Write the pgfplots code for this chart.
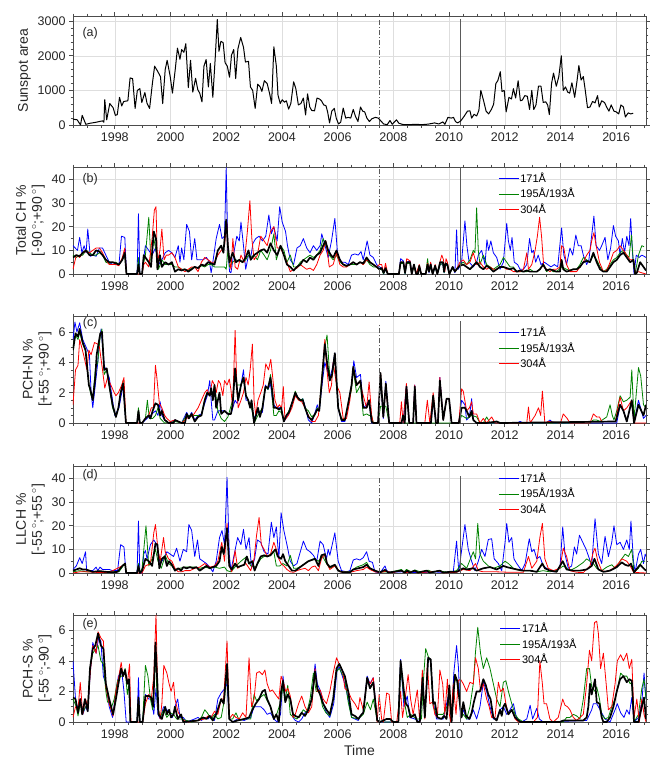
\documentclass[border=0pt]{standalone}
\usepackage{fontspec}
\setmainfont{Liberation Sans}
\usepackage{pgfplots}
\pgfplotsset{compat=1.18}
\definecolor{cblue}{RGB}{0,0,255}
\definecolor{cgreen}{RGB}{0,130,0}
\definecolor{cred}{RGB}{255,0,0}
\definecolor{vline}{RGB}{90,90,90}
\pgfplotsset{
  panel/.style={
    scale only axis, width=573pt,
    xmin=1996.5, xmax=2017.07, ymin=0,
    xtick={1998,2000,2002,2004,2006,2008,2010,2012,2014,2016},
    minor xtick={1996.5,1997,1997.5,1998,1998.5,1999,1999.5,2000,2000.5,2001,2001.5,2002,2002.5,2003,2003.5,2004,2004.5,2005,2005.5,2006,2006.5,2007,2007.5,2008,2008.5,2009,2009.5,2010,2010.5,2011,2011.5,2012,2012.5,2013,2013.5,2014,2014.5,2015,2015.5,2016,2016.5,2017},
    tick align=outside,
    major tick length=4pt, minor tick length=2.5pt,
    grid=major, grid style={black!13, line width=0.5pt},
    axis line style={black!70, line width=0.6pt},
    every tick/.style={black!70, line width=0.6pt},
    tick label style={font=\fontsize{12.5}{14}\selectfont, text=black!85},
    label style={font=\fontsize{14}{16}\selectfont, text=black!85},
    /pgf/number format/assume math mode=true,
    /pgf/number format/1000 sep={},
    ylabel style={align=center},
    legend cell align=left,
    legend style={draw=none, fill=none, inner sep=0pt, row sep=2pt,
      font=\fontsize{11}{13}\selectfont, nodes={inner sep=1.2pt}},
    legend image code/.code={\draw[##1] (0pt,0pt) -- (20pt,0pt);},
    every axis plot/.append style={no markers, line join=round},
  },
  ser/.style={line width=0.8pt},
  mean/.style={black, line width=1.7pt},
  vdash/.style={vline, line width=0.7pt, dash pattern=on 5pt off 2pt on 1pt off 2pt},
  vsolid/.style={vline, line width=0.7pt},
}
\newcommand{\threelegend}{%
  \addlegendimage{color=cblue, line width=0.8pt}\addlegendentry{171Å}%
  \addlegendimage{color=cgreen, line width=0.8pt}\addlegendentry{195Å/193Å}%
  \addlegendimage{color=cred, line width=0.8pt}\addlegendentry{304Å}}
\begin{document}
\begin{tikzpicture}
\path[use as bounding box] (-73pt,16pt) rectangle (592pt,-755pt);

% ---------------- (a) ----------------
\begin{axis}[panel, at={(0pt,0pt)}, anchor=north west, height=109pt,
  ymax=3150, ytick={0,1000,2000,3000}, minor y tick num=4,
  ylabel={Sunspot area}]
\addplot[vdash, forget plot] coordinates {(2007.5,0) (2007.5,3050)};
\addplot[vsolid, forget plot] coordinates {(2010.42,0) (2010.42,3050)};
\addplot[black, line width=1pt, forget plot] coordinates {
(1996.50,170) (1996.65,150) (1996.77,0) (1996.83,280) (1996.96,20) (1997.11,50) (1997.33,80) (1997.56,120) (1997.61,80)
(1997.64,730) (1997.71,150) (1997.82,620) (1997.94,500) (1998.02,280) (1998.09,300) (1998.17,800) (1998.25,550)
(1998.32,680) (1998.47,700) (1998.55,1360) (1998.64,1340) (1998.73,480) (1998.81,1000) (1998.90,1050) (1998.97,650)
(1999.08,940) (1999.16,620) (1999.25,480) (1999.35,1200) (1999.43,1700) (1999.54,1550) (1999.64,1400) (1999.72,620)
(1999.81,1600) (1999.88,1870) (1999.99,1400) (2000.07,920) (2000.17,1600) (2000.25,2220) (2000.34,1900) (2000.40,2180)
(2000.48,2100) (2000.55,2350) (2000.64,1080) (2000.72,1870) (2000.80,950) (2000.90,1350) (2000.98,1020) (2001.05,920)
(2001.13,670) (2001.20,1700) (2001.28,1890) (2001.36,1100) (2001.43,1780) (2001.52,800) (2001.61,2000) (2001.68,3050)
(2001.74,2130) (2001.81,2420) (2001.89,2380) (2001.96,1800) (2002.04,1700) (2002.12,1380) (2002.19,2020) (2002.27,2180)
(2002.34,1340) (2002.42,2200) (2002.52,2530) (2002.62,2250) (2002.69,1820) (2002.80,1840) (2002.87,1100) (2002.95,1000)
(2003.04,480) (2003.13,1180) (2003.22,1100) (2003.28,970) (2003.37,1280) (2003.47,1200) (2003.56,900) (2003.63,620)
(2003.71,2260) (2003.80,1700) (2003.86,860) (2003.94,620) (2004.01,730) (2004.09,660) (2004.16,700) (2004.24,460)
(2004.32,620) (2004.42,1250) (2004.50,1050) (2004.59,580) (2004.68,620) (2004.77,780) (2004.85,290) (2004.92,900)
(2005.00,520) (2005.07,420) (2005.17,410) (2005.26,780) (2005.35,750) (2005.42,700) (2005.50,580) (2005.58,560)
(2005.64,380) (2005.71,60) (2005.79,400) (2005.88,480) (2005.95,200) (2006.03,30) (2006.11,80) (2006.20,490)
(2006.29,200) (2006.38,220) (2006.47,200) (2006.56,450) (2006.64,250) (2006.73,100) (2006.82,520) (2006.90,400)
(2006.97,380) (2007.05,200) (2007.14,100) (2007.23,180) (2007.35,220) (2007.46,200) (2007.55,120) (2007.65,30)
(2007.78,10) (2007.88,130) (2007.96,20) (2008.11,150) (2008.20,50) (2008.34,15) (2008.56,10) (2008.79,20)
(2009.02,10) (2009.25,25) (2009.48,60) (2009.63,30) (2009.78,90) (2009.85,20) (2009.96,220) (2010.08,200)
(2010.16,220) (2010.23,100) (2010.31,60) (2010.42,120) (2010.54,250) (2010.66,400) (2010.75,410) (2010.81,200)
(2010.90,310) (2010.99,260) (2011.07,420) (2011.14,1000) (2011.24,700) (2011.33,400) (2011.42,320) (2011.52,450)
(2011.60,600) (2011.68,1200) (2011.75,1280) (2011.84,1540) (2011.90,970) (2011.98,1000) (2012.05,380) (2012.15,800)
(2012.24,750) (2012.31,1050) (2012.39,780) (2012.48,1280) (2012.56,700) (2012.63,720) (2012.72,850) (2012.81,830)
(2012.89,450) (2012.97,1000) (2013.04,450) (2013.12,580) (2013.21,1120) (2013.30,1120) (2013.38,650) (2013.47,670)
(2013.54,580) (2013.60,300) (2013.68,1200) (2013.75,1500) (2013.85,1120) (2013.94,1400) (2014.03,2000) (2014.10,1000)
(2014.18,1100) (2014.26,950) (2014.33,920) (2014.41,1220) (2014.51,800) (2014.59,1250) (2014.66,1720) (2014.74,1300)
(2014.82,1400) (2014.89,1000) (2014.97,500) (2015.06,520) (2015.15,680) (2015.24,640) (2015.33,850) (2015.39,520)
(2015.48,700) (2015.58,650) (2015.67,500) (2015.74,400) (2015.82,580) (2015.92,400) (2016.00,380) (2016.09,320)
(2016.17,580) (2016.26,520) (2016.33,230) (2016.43,350) (2016.52,320) (2016.61,340)};
\node[font=\fontsize{12.5}{14}\selectfont, text=black!85] at (rel axis cs:0.03,0.845) {(a)};
\end{axis}

% ---------------- (b) ----------------
\begin{axis}[panel, at={(0pt,-151pt)}, anchor=north west, height=107pt,
  ymax=45.3, ytick={0,10,20,30,40}, minor y tick num=1,
  ylabel={Total CH \%\\{}[-90\,$^\circ$;+90\,$^\circ$]},
  legend style={at={(0.742,0.958)}, anchor=north west}]
\threelegend
\addplot[cblue, ser, forget plot] coordinates {
(1996.50,12) (1996.58,11) (1996.66,10) (1996.74,15.5) (1996.82,9) (1996.90,12) (1996.97,9) (1997.03,19) (1997.12,7.5)
(1997.21,8) (1997.33,7.5) (1997.45,11) (1997.56,11) (1997.68,8) (1997.80,5) (1997.92,4) (1998.04,4.5) (1998.15,4)
(1998.24,16) (1998.36,15.5) (1998.42,0) (1998.80,0) (1998.85,25.5) (1998.90,0) (1998.98,0) (1999.04,7) (1999.10,12)
(1999.22,10) (1999.34,8) (1999.46,11) (1999.57,4) (1999.69,6) (1999.81,9) (1999.93,10) (2000.05,9) (2000.16,7)
(2000.28,12) (2000.34,5) (2000.40,11) (2000.48,6) (2000.58,21) (2000.68,18) (2000.76,6) (2000.87,15) (2000.95,6)
(2001.05,6) (2001.17,6) (2001.29,7) (2001.40,5) (2001.46,0.5) (2001.52,5) (2001.64,15) (2001.76,21) (2001.85,15)
(2001.94,16) (2002.00,45) (2002.06,10) (2002.12,1) (2002.17,0.5) (2002.29,10) (2002.38,16) (2002.47,14) (2002.53,22)
(2002.62,12) (2002.70,2) (2002.80,8) (2002.88,7) (2002.96,13) (2003.06,15) (2003.18,16) (2003.30,14) (2003.42,16)
(2003.53,25) (2003.62,17) (2003.71,20) (2003.83,14) (2003.92,28.5) (2004.01,22) (2004.13,18) (2004.20,12) (2004.30,6)
(2004.42,4) (2004.54,11) (2004.66,12) (2004.77,15) (2004.89,11) (2005.01,9) (2005.13,12) (2005.25,10) (2005.37,12)
(2005.43,17) (2005.55,12) (2005.66,7) (2005.78,14) (2005.90,23.5) (2006.00,8) (2006.14,5) (2006.26,5) (2006.38,4)
(2006.50,8) (2006.62,8.5) (2006.74,8) (2006.84,9.5) (2006.92,6) (2007.06,14) (2007.16,8) (2007.28,7) (2007.40,4)
(2007.50,3) (2007.58,2.5) (2007.65,0) (2007.72,2) (2007.80,0) (2008.20,0) (2008.26,6.5) (2008.36,5.5) (2008.42,0)
(2008.48,5) (2008.60,5.5) (2008.66,0) (2008.74,4) (2008.82,0) (2008.93,3) (2009.00,0) (2009.16,0) (2009.23,4)
(2009.28,0.5) (2009.34,4.5) (2009.41,0) (2009.50,3) (2009.58,0) (2009.68,4) (2009.78,4.5) (2009.82,0.5) (2009.87,4)
(2009.94,3.5) (2010.01,0) (2010.13,3) (2010.21,0.5) (2010.27,18.7) (2010.33,2) (2010.45,5) (2010.57,22.5) (2010.64,12)
(2010.72,5) (2010.80,4) (2010.87,3) (2010.99,5) (2011.05,8) (2011.17,10) (2011.29,4) (2011.36,14.5) (2011.42,10)
(2011.50,14) (2011.59,9) (2011.71,7) (2011.83,2) (2011.95,5) (2012.07,21.5) (2012.13,14) (2012.20,10) (2012.26,15.5)
(2012.34,5) (2012.46,4) (2012.55,2) (2012.67,2) (2012.79,4) (2012.89,15) (2012.97,9) (2013.03,10) (2013.11,5)
(2013.20,8) (2013.30,4) (2013.42,5) (2013.54,4) (2013.66,3) (2013.78,4) (2013.90,3) (2014.04,19.5) (2014.12,8)
(2014.22,4) (2014.34,11) (2014.44,8) (2014.55,16.5) (2014.64,12) (2014.74,12) (2014.82,8) (2014.94,4) (2015.02,6)
(2015.20,24.5) (2015.28,12) (2015.40,10) (2015.48,12) (2015.60,15.5) (2015.70,6) (2015.80,11) (2015.90,20.5)
(2015.98,16) (2016.08,14) (2016.14,8) (2016.22,15) (2016.30,9) (2016.38,16) (2016.46,12) (2016.52,23.5) (2016.58,10)
(2016.64,0) (2016.72,8) (2016.82,7) (2016.92,8) (2017.00,7.5) (2017.07,7)};
\addplot[cgreen, ser, forget plot] coordinates {
(1996.50,8) (1996.62,7) (1996.74,8) (1996.85,8) (1996.97,10) (1997.09,9) (1997.21,8) (1997.33,8) (1997.45,9) (1997.56,8)
(1997.68,5) (1997.80,4.5) (1997.92,5) (1998.04,5) (1998.15,4) (1998.27,6) (1998.36,8) (1998.42,0) (1998.80,0)
(1998.85,7) (1998.90,0) (1998.98,0) (1999.04,5) (1999.10,8) (1999.22,24) (1999.30,5) (1999.40,15) (1999.48,10)
(1999.57,2) (1999.69,6) (1999.81,4) (1999.93,4) (2000.05,4) (2000.16,3) (2000.28,3) (2000.40,2) (2000.52,2)
(2000.64,1.5) (2000.76,2.5) (2000.87,3) (2000.99,2.5) (2001.11,3.5) (2001.23,3) (2001.35,4) (2001.46,4) (2001.58,3)
(2001.70,3) (2001.82,3) (2001.94,3) (2002.00,2) (2002.06,10) (2002.12,3) (2002.23,5) (2002.35,6) (2002.47,5.5)
(2002.59,5) (2002.70,6) (2002.80,8) (2002.88,7) (2003.00,8) (2003.12,6) (2003.24,10) (2003.36,8) (2003.47,6)
(2003.59,10) (2003.71,17) (2003.80,6) (2003.95,12) (2004.07,10) (2004.18,5) (2004.30,8) (2004.42,3) (2004.54,3)
(2004.66,5) (2004.77,6) (2004.89,7) (2005.01,8) (2005.13,7) (2005.25,8) (2005.37,10) (2005.48,15) (2005.58,12)
(2005.70,8) (2005.84,6) (2005.96,8) (2006.08,5) (2006.20,4) (2006.32,3) (2006.44,4) (2006.56,4) (2006.68,4)
(2006.80,5) (2006.92,4) (2007.04,6) (2007.16,4) (2007.28,3) (2007.40,3) (2007.50,2) (2007.58,2) (2007.65,0)
(2007.72,2) (2007.80,0) (2008.20,0) (2008.26,4.5) (2008.36,4.5) (2008.42,0) (2008.48,4.5) (2008.60,4.5) (2008.66,0)
(2008.74,3.5) (2008.82,0) (2008.93,3) (2009.00,0) (2009.16,0) (2009.23,6.5) (2009.28,1) (2009.34,3.5) (2009.41,0)
(2009.50,3) (2009.58,0) (2009.68,4) (2009.78,4.5) (2009.82,0.5) (2009.87,4) (2009.94,3.5) (2010.01,0) (2010.13,2.5)
(2010.21,1) (2010.27,2) (2010.39,4) (2010.51,5) (2010.63,4) (2010.75,6) (2010.87,10) (2010.93,9) (2010.99,28)
(2011.05,10) (2011.11,4) (2011.23,8) (2011.35,4) (2011.47,3) (2011.59,2) (2011.71,3) (2011.83,4) (2011.95,7)
(2012.07,5) (2012.19,3) (2012.31,3) (2012.43,1) (2012.55,1) (2012.67,1) (2012.79,1) (2012.91,2) (2013.03,1)
(2013.15,1) (2013.26,2) (2013.38,4) (2013.50,1) (2013.62,2) (2013.74,1) (2013.86,1) (2014.04,3) (2014.22,2)
(2014.34,1.5) (2014.46,2) (2014.58,2) (2014.70,4) (2014.82,7) (2014.94,6) (2015.06,5) (2015.18,8) (2015.30,6)
(2015.42,3) (2015.54,1) (2015.66,2) (2015.78,4) (2015.90,6) (2016.02,7) (2016.14,9) (2016.26,10) (2016.38,8)
(2016.46,7) (2016.55,16.5) (2016.62,4) (2016.68,0) (2016.80,8) (2016.92,12) (2017.00,11.5)};
\addplot[cred, ser, forget plot] coordinates {
(1996.50,2) (1996.56,5) (1996.62,8) (1996.74,7) (1996.85,9) (1996.97,9.5) (1997.09,9) (1997.21,10) (1997.33,11)
(1997.45,11) (1997.56,9) (1997.68,6) (1997.80,4) (1997.92,4) (1998.04,4) (1998.15,3.5) (1998.27,7) (1998.36,11)
(1998.42,0) (1998.98,0) (1999.04,4) (1999.10,5) (1999.22,3) (1999.34,15) (1999.42,27) (1999.48,28.5) (1999.53,5)
(1999.62,10) (1999.69,19) (1999.77,6) (1999.85,8) (1999.93,8) (2000.05,9) (2000.16,7) (2000.28,3) (2000.40,2)
(2000.52,1) (2000.64,2) (2000.76,3) (2000.87,3) (2000.99,1) (2001.11,5) (2001.23,7) (2001.35,6) (2001.46,5)
(2001.58,5) (2001.70,8) (2001.82,10) (2001.94,12) (2002.02,22) (2002.08,8) (2002.17,2) (2002.24,15) (2002.32,3)
(2002.41,2) (2002.53,8) (2002.65,5) (2002.76,18) (2002.85,31) (2002.92,15) (2003.00,6) (2003.12,8) (2003.24,16)
(2003.36,14) (2003.47,12) (2003.59,18) (2003.71,20) (2003.83,11) (2003.95,11) (2004.07,8) (2004.18,5) (2004.30,1)
(2004.42,2) (2004.54,2.5) (2004.66,4) (2004.77,3) (2004.89,2) (2005.01,2.5) (2005.13,1.5) (2005.25,4) (2005.37,8)
(2005.48,10) (2005.58,14) (2005.70,3) (2005.84,4) (2005.96,9) (2006.08,4) (2006.20,3) (2006.32,3) (2006.44,4)
(2006.56,5) (2006.68,4) (2006.80,5) (2006.92,4) (2007.04,6) (2007.16,5) (2007.28,4) (2007.40,3) (2007.50,4)
(2007.58,4) (2007.65,0.5) (2007.72,4.5) (2007.80,0) (2008.20,0) (2008.26,5) (2008.36,5) (2008.42,0.5) (2008.48,6.5)
(2008.60,5.5) (2008.66,0) (2008.74,4) (2008.82,0) (2008.93,4) (2009.00,0) (2009.16,0) (2009.23,4.5) (2009.28,1)
(2009.34,5) (2009.41,0) (2009.50,4) (2009.58,0) (2009.68,5.5) (2009.74,8) (2009.80,6) (2009.85,1) (2009.89,6.5)
(2009.94,5) (2010.01,0) (2010.13,3) (2010.21,1) (2010.27,2) (2010.39,5) (2010.51,6) (2010.63,4) (2010.75,5)
(2010.87,9) (2010.99,4) (2011.11,5) (2011.23,3) (2011.35,2) (2011.47,3) (2011.59,2) (2011.71,2) (2011.83,3)
(2011.95,3) (2012.07,2) (2012.19,2) (2012.31,1) (2012.43,1) (2012.55,1) (2012.67,2) (2012.79,9) (2012.85,2)
(2012.97,4) (2013.09,10) (2013.17,16) (2013.25,24) (2013.32,16) (2013.40,3) (2013.50,2) (2013.62,1) (2013.74,2)
(2013.86,2) (2013.98,3) (2014.04,12) (2014.12,11) (2014.22,4) (2014.34,1) (2014.46,1) (2014.58,1) (2014.70,3)
(2014.82,5) (2014.94,8) (2015.06,10) (2015.12,14) (2015.20,17.5) (2015.28,12) (2015.40,5) (2015.54,1) (2015.66,1.5)
(2015.78,5) (2015.90,9) (2016.02,10) (2016.14,12) (2016.26,10) (2016.38,8) (2016.50,6) (2016.62,6) (2016.68,0.5)
(2016.80,1) (2016.92,0.5) (2017.07,0)};
\addplot[mean, forget plot] coordinates {
(1996.50,7) (1996.62,8) (1996.74,7.5) (1996.85,9) (1996.97,10) (1997.09,8) (1997.21,8) (1997.33,10) (1997.45,9.5)
(1997.56,8) (1997.68,6) (1997.80,5) (1997.92,5) (1998.04,4.5) (1998.15,4) (1998.27,6) (1998.36,9) (1998.42,0)
(1998.80,0) (1998.85,4) (1998.90,0) (1998.98,0) (1999.04,8) (1999.10,7) (1999.22,5) (1999.30,3) (1999.40,18)
(1999.48,15) (1999.53,2) (1999.62,8) (1999.69,3) (1999.81,5) (1999.93,4) (2000.05,5) (2000.16,1) (2000.28,2)
(2000.40,1.5) (2000.52,2) (2000.64,1) (2000.76,2) (2000.87,3) (2000.99,2.5) (2001.11,4) (2001.23,3.5) (2001.35,5)
(2001.46,4.5) (2001.58,4) (2001.70,10) (2001.82,12) (2001.90,9) (2002.00,23) (2002.06,12) (2002.12,5) (2002.23,9)
(2002.35,5) (2002.47,6) (2002.59,5) (2002.70,7) (2002.80,10) (2002.88,6) (2003.00,8) (2003.12,9) (2003.24,10)
(2003.36,10.5) (2003.47,9) (2003.59,13) (2003.71,10) (2003.83,8) (2003.95,12) (2004.07,8) (2004.18,4) (2004.30,3)
(2004.42,1.5) (2004.54,3) (2004.66,4) (2004.77,6) (2004.89,5) (2005.01,7) (2005.13,6) (2005.25,8) (2005.37,9)
(2005.48,12) (2005.56,14) (2005.66,10) (2005.76,8) (2005.84,7) (2005.96,10) (2006.08,6) (2006.20,4) (2006.32,3.5)
(2006.44,4) (2006.56,5) (2006.68,4) (2006.80,5) (2006.92,4.5) (2007.04,7) (2007.16,5) (2007.28,4) (2007.40,3)
(2007.50,2) (2007.58,2.5) (2007.65,0.5) (2007.72,2.5) (2007.80,0) (2008.20,0) (2008.26,5) (2008.36,5) (2008.42,0.5)
(2008.48,5) (2008.60,5) (2008.66,0) (2008.74,4) (2008.82,0) (2008.88,0) (2008.93,3.5) (2009.00,0) (2009.16,0)
(2009.23,4) (2009.28,1) (2009.34,4) (2009.41,0) (2009.50,3.5) (2009.58,0) (2009.68,5) (2009.78,5) (2009.82,1)
(2009.87,4.5) (2009.94,4) (2010.01,0) (2010.13,3) (2010.21,1) (2010.27,2) (2010.39,3.5) (2010.51,4) (2010.63,3)
(2010.75,2) (2010.87,3.5) (2010.99,5) (2011.11,3) (2011.23,2) (2011.35,3.5) (2011.47,2.5) (2011.59,1) (2011.71,2)
(2011.83,3) (2011.95,3) (2012.07,2.5) (2012.19,2) (2012.31,2.5) (2012.43,1) (2012.55,1.5) (2012.67,1) (2012.79,1.5)
(2012.91,1) (2013.03,1) (2013.15,1) (2013.26,2) (2013.38,4) (2013.50,1.5) (2013.62,2) (2013.74,1.5) (2013.86,1)
(2013.98,1) (2014.04,6) (2014.10,2) (2014.22,1) (2014.34,1.5) (2014.46,2) (2014.58,2) (2014.70,3) (2014.82,5)
(2014.94,5.5) (2015.06,5) (2015.18,9) (2015.30,5) (2015.42,2) (2015.54,1) (2015.66,1) (2015.78,3) (2015.90,5)
(2016.02,6) (2016.14,8) (2016.26,9) (2016.38,7) (2016.50,5) (2016.62,6) (2016.68,0) (2016.74,0.5) (2016.86,5)
(2016.98,3) (2017.07,1.5)};
\addplot[vdash, forget plot] coordinates {(2007.5,0) (2007.5,45.3)};
\addplot[vsolid, forget plot] coordinates {(2010.42,0) (2010.42,45.3)};
\node[font=\fontsize{12.5}{14}\selectfont, text=black!85] at (rel axis cs:0.03,0.888) {(b)};
\end{axis}

% ---------------- (c) ----------------
\begin{axis}[panel, at={(0pt,-300pt)}, anchor=north west, height=107pt,
  ymax=7.05, ytick={0,2,4,6}, minor y tick num=3,
  ylabel={PCH-N \%\\{}[+55\,$^\circ$;+90\,$^\circ$]},
  legend style={at={(0.742,0.911)}, anchor=north west}]
\threelegend
\addplot[cblue, ser, forget plot] coordinates {
(1996.50,5.5) (1996.57,6.65) (1996.64,6) (1996.74,6.6) (1996.85,5.5) (1996.97,5) (1997.09,4.5) (1997.15,2) (1997.21,1)
(1997.27,2) (1997.39,4) (1997.45,5.5) (1997.51,6.2) (1997.62,3.8) (1997.68,3.5) (1997.80,3) (1997.92,1.5) (1998.00,0.5)
(1998.15,1) (1998.30,2.5) (1998.40,0) (1998.80,0) (1998.85,0.6) (1998.90,0) (1998.98,0) (1999.10,0.2) (1999.22,0.4)
(1999.34,0.6) (1999.46,0.8) (1999.55,0.5) (1999.63,1.4) (1999.69,0.5) (1999.79,0.2) (1999.93,0) (2000.16,0.2)
(2000.40,0) (2000.58,0.7) (2000.66,0.4) (2000.76,0.7) (2000.87,0.2) (2000.99,0.5) (2001.11,0.6) (2001.23,1.3)
(2001.32,1.8) (2001.41,2.8) (2001.46,1.5) (2001.52,0.2) (2001.58,0.2) (2001.70,0.8) (2001.82,0.8) (2001.94,0.8)
(2002.06,0.6) (2002.17,0.6) (2002.32,1.5) (2002.39,1.3) (2002.43,1.5) (2002.53,2.5) (2002.62,3.5) (2002.71,1.5)
(2002.79,1.5) (2002.91,1) (2003.00,0.3) (2003.14,0.8) (2003.30,0.7) (2003.41,2.5) (2003.50,2.2) (2003.59,2.6)
(2003.66,1.5) (2003.71,1.2) (2003.80,1) (2003.89,1) (2003.97,1) (2004.07,0.1) (2004.25,0.6) (2004.36,1.3)
(2004.48,1.8) (2004.56,1.7) (2004.66,1.5) (2004.75,1.6) (2004.83,1.1) (2004.95,0.2) (2005.07,0) (2005.19,0.7)
(2005.27,1.2) (2005.34,0.8) (2005.42,2.2) (2005.54,4) (2005.62,3.5) (2005.72,3) (2005.80,3.5) (2005.90,4.6)
(2006.02,1) (2006.14,0.1) (2006.26,0.1) (2006.38,1.2) (2006.50,2.5) (2006.58,4.1) (2006.68,3) (2006.82,3.2)
(2006.92,1) (2007.04,1.2) (2007.13,1.5) (2007.22,0) (2007.45,0) (2007.54,3) (2007.64,0.3) (2007.73,2.75) (2007.85,0)
(2008.35,0) (2008.47,2.5) (2008.57,0) (2008.71,0) (2008.77,2.5) (2008.83,0) (2009.35,0) (2009.43,1.5) (2009.53,0)
(2009.60,0) (2009.67,3) (2009.79,0.2) (2009.91,1.6) (2010.00,1.6) (2010.09,0) (2010.35,0) (2010.45,1.5) (2010.57,1.2)
(2010.63,0.2) (2010.73,0.4) (2010.81,1.6) (2010.87,0.2) (2010.99,0) (2012.43,0) (2012.55,0.1) (2012.67,0) (2013.50,0)
(2013.62,0.2) (2013.74,0) (2016.02,0) (2016.14,1.2) (2016.26,0.8) (2016.38,0.1) (2016.56,1.4) (2016.64,0) (2016.80,1.5)
(2016.98,0.3) (2017.07,0.5)};
\addplot[cgreen, ser, forget plot] coordinates {
(1996.50,5) (1996.59,5.8) (1996.68,5.5) (1996.74,6) (1996.85,5.2) (1996.95,4.8) (1997.07,2.5) (1997.15,1.8) (1997.21,1.6)
(1997.30,3.5) (1997.39,4) (1997.48,5.8) (1997.54,6.2) (1997.62,3.2) (1997.71,3.5) (1997.80,2.5) (1997.92,1) (1998.04,0.4)
(1998.13,1) (1998.21,2) (1998.30,2.8) (1998.40,0) (1998.80,0) (1998.85,1) (1998.90,0) (1998.98,0) (1999.10,0.3)
(1999.17,1.5) (1999.24,0.3) (1999.36,0.3) (1999.46,0.5) (1999.55,1) (1999.63,0.3) (1999.79,0) (2000.16,0.1) (2000.40,0)
(2000.58,0.5) (2000.76,0.5) (2000.99,0.5) (2001.11,0.5) (2001.23,1.6) (2001.32,2) (2001.41,2) (2001.52,1.8) (2001.58,2.5)
(2001.70,0.8) (2001.82,0.3) (2001.94,0.1) (2002.06,0.4) (2002.23,1.5) (2002.32,3.5) (2002.39,2.5) (2002.53,2.5)
(2002.62,3) (2002.71,1.8) (2002.79,1.5) (2002.91,1) (2003.00,0) (2003.14,0.5) (2003.30,1) (2003.41,2.4) (2003.50,2.2)
(2003.59,3.2) (2003.66,1.5) (2003.71,0.5) (2003.80,0.5) (2003.89,0.8) (2003.97,0.7) (2004.07,0.2) (2004.25,0.8)
(2004.36,1.3) (2004.48,2.1) (2004.56,1.6) (2004.66,1.5) (2004.75,1.6) (2004.83,1) (2004.95,0.8) (2005.07,0.4)
(2005.19,0.6) (2005.27,1) (2005.34,0.8) (2005.42,2.8) (2005.54,5) (2005.62,5.8) (2005.72,3) (2005.80,3) (2005.90,4.5)
(2006.02,1) (2006.14,0.3) (2006.26,0.2) (2006.38,1.3) (2006.50,2.2) (2006.56,3.5) (2006.68,2) (2006.82,2.5) (2006.92,0.5)
(2007.04,0.6) (2007.13,0.5) (2007.22,0.5) (2007.28,0) (2007.45,0) (2007.54,1.1) (2007.64,1.1) (2007.73,1.1) (2007.85,0)
(2010.35,0) (2010.45,0.5) (2010.63,0.3) (2010.81,0.5) (2010.99,0.4) (2011.11,0) (2011.23,0) (2011.35,0.4) (2011.47,0)
(2015.06,0) (2015.18,0.2) (2015.30,0.2) (2015.42,0.1) (2015.66,0.4) (2015.78,1.2) (2015.86,0.5) (2015.92,0.2)
(2016.02,0.8) (2016.14,1.8) (2016.26,1.4) (2016.38,1.5) (2016.50,1.7) (2016.56,3.5) (2016.64,0.2) (2016.80,3.65)
(2016.88,3.1) (2016.98,1.2) (2017.07,1)};
\addplot[cred, ser, forget plot] coordinates {
(1996.50,1.2) (1996.59,3.5) (1996.68,3.8) (1996.74,5.5) (1996.88,4.5) (1997.00,3.5) (1997.07,4.8) (1997.15,4.5)
(1997.27,5.3) (1997.39,5.2) (1997.45,5) (1997.56,3.5) (1997.64,2.3) (1997.74,3) (1997.86,2.5) (1997.98,2) (1998.04,1.8)
(1998.13,2) (1998.25,2.5) (1998.33,3) (1998.40,0) (1998.98,0) (1999.10,0.3) (1999.22,0.5) (1999.31,1) (1999.39,1)
(1999.46,3.8) (1999.51,3) (1999.60,1.3) (1999.69,1) (1999.79,0.5) (1999.87,0.3) (1999.99,0.1) (2000.16,0.2) (2000.40,0)
(2000.58,0.3) (2000.81,0.5) (2000.99,1) (2001.11,1.5) (2001.23,2) (2001.32,2.2) (2001.41,1.8) (2001.50,2.8) (2001.58,2.5)
(2001.64,2) (2001.72,2.8) (2001.79,2.6) (2001.88,1.8) (2001.94,2.8) (2002.03,2.5) (2002.11,2.9) (2002.17,2.2) (2002.23,1)
(2002.32,6.1) (2002.39,2) (2002.43,1) (2002.53,1.5) (2002.62,2) (2002.71,3) (2002.79,2.5) (2002.86,3.5) (2002.94,5.2)
(2003.00,1.5) (2003.06,0.5) (2003.14,1.5) (2003.24,2) (2003.33,2.5) (2003.42,3.9) (2003.52,3.5) (2003.60,4.2) (2003.67,3)
(2003.75,1.5) (2003.84,1) (2003.91,1.2) (2003.99,1) (2004.05,2.4) (2004.11,0.2) (2004.23,0.5) (2004.36,1) (2004.48,1.8)
(2004.60,1.5) (2004.71,1.4) (2004.83,1) (2004.95,0.5) (2005.07,0.1) (2005.19,0.1) (2005.31,0.5) (2005.42,2.5)
(2005.54,5.5) (2005.60,3.8) (2005.70,2) (2005.78,2.5) (2005.84,4) (2005.96,2.5) (2006.08,2) (2006.20,0.3) (2006.32,0.3)
(2006.44,1.5) (2006.56,3.5) (2006.68,2.5) (2006.80,2.7) (2006.92,1.8) (2007.04,1) (2007.13,2.7) (2007.22,0.5) (2007.28,0)
(2007.45,0) (2007.54,3.3) (2007.64,0.4) (2007.73,2.5) (2007.85,0) (2008.23,0) (2008.29,1.4) (2008.35,0) (2008.47,2.6)
(2008.57,0) (2008.71,0) (2008.77,2.5) (2008.83,0) (2009.13,0) (2009.22,1.5) (2009.31,0) (2009.43,2) (2009.53,0)
(2009.60,0) (2009.67,3) (2009.79,0.2) (2009.91,1.6) (2010.00,1.6) (2010.09,0) (2010.35,0) (2010.45,2.25) (2010.51,2.1)
(2010.63,0.8) (2010.73,1) (2010.81,1.4) (2010.87,0.6) (2010.99,0.6) (2011.11,0) (2011.23,0.3) (2011.35,0) (2011.53,0.4)
(2011.65,0) (2012.79,0) (2012.85,1.05) (2012.91,0) (2013.09,0.5) (2013.21,1) (2013.29,0.5) (2013.35,2.1) (2013.44,0)
(2013.56,0.1) (2014.00,0) (2014.10,0.6) (2014.24,0.3) (2014.34,0) (2015.06,0) (2015.18,0.6) (2015.30,0.4) (2015.40,0.4)
(2015.48,0.1) (2015.98,0.1) (2016.02,0.6) (2016.14,1.7) (2016.26,0.8) (2016.38,1) (2016.56,1.5) (2016.64,0) (2017.07,0)};
\addplot[mean, forget plot] coordinates {
(1996.50,4.8) (1996.59,5.9) (1996.68,5.7) (1996.74,6.2) (1996.85,5.3) (1996.95,4.8) (1997.07,2.5) (1997.11,2.3)
(1997.21,1.5) (1997.30,3) (1997.35,4.5) (1997.48,5.9) (1997.54,6) (1997.62,3.5) (1997.71,3.6) (1997.80,2.5) (1997.92,1.2)
(1998.04,0.4) (1998.13,1) (1998.21,2) (1998.30,2.6) (1998.40,0) (1998.80,0) (1998.85,0.8) (1998.90,0) (1998.98,0)
(1999.10,0.3) (1999.22,0.5) (1999.28,0.3) (1999.36,0.8) (1999.46,1.3) (1999.55,1.2) (1999.63,0.5) (1999.69,0.8)
(1999.79,0.2) (1999.87,0.1) (1999.93,0) (2000.11,0) (2000.16,0.2) (2000.28,0.1) (2000.40,0) (2000.52,0) (2000.58,0.6)
(2000.66,0.3) (2000.76,0.6) (2000.87,0.1) (2000.99,0.4) (2001.11,0.5) (2001.23,1.5) (2001.32,2) (2001.41,1.8)
(2001.46,2.3) (2001.52,1.5) (2001.58,2.5) (2001.64,1) (2001.70,1.5) (2001.76,2) (2001.82,0.6) (2001.94,0.8)
(2002.06,0.6) (2002.17,0.6) (2002.23,1.2) (2002.32,3.6) (2002.39,2.2) (2002.43,1.5) (2002.53,2.5) (2002.62,3)
(2002.71,1.8) (2002.79,1.5) (2002.86,1) (2002.91,1.5) (2003.00,0) (2003.07,0.5) (2003.14,1) (2003.21,0.4) (2003.30,1)
(2003.41,2.4) (2003.50,2.3) (2003.59,3) (2003.66,2) (2003.71,1) (2003.80,1) (2003.89,0.9) (2003.97,1) (2004.07,0.1)
(2004.16,0.5) (2004.25,0.7) (2004.36,1.3) (2004.48,2) (2004.56,1.7) (2004.66,1.5) (2004.75,1.5) (2004.83,1) (2004.95,0.4)
(2005.07,0.2) (2005.19,0.6) (2005.27,0.9) (2005.34,0.8) (2005.42,2.5) (2005.54,5.2) (2005.62,4) (2005.72,2.8)
(2005.80,3.2) (2005.90,4.6) (2006.02,1) (2006.14,0.2) (2006.26,0.2) (2006.38,1.3) (2006.50,2.5) (2006.56,3.7)
(2006.68,2.5) (2006.82,2.8) (2006.92,1) (2007.04,1) (2007.13,1.5) (2007.22,0.1) (2007.28,0) (2007.45,0) (2007.54,3.3)
(2007.64,0.4) (2007.73,2.6) (2007.85,0) (2008.29,0) (2008.35,0.5) (2008.41,0) (2008.47,2.4) (2008.57,0) (2008.71,0)
(2008.77,2.4) (2008.83,0) (2009.35,0) (2009.43,1.8) (2009.53,0) (2009.60,0) (2009.67,2.8) (2009.79,0.2) (2009.91,1.6)
(2010.00,1.6) (2010.09,0) (2010.35,0) (2010.45,1) (2010.57,1) (2010.63,0.8) (2010.73,0.4) (2010.81,0.8) (2010.87,0.2)
(2010.99,0) (2011.35,0) (2011.71,0.1) (2011.83,0) (2015.98,0.1) (2016.14,1.2) (2016.26,0.8) (2016.38,0.1) (2016.56,1.5)
(2016.64,0) (2016.80,1.2) (2016.98,0.5) (2017.07,1.2)};
\addplot[vdash, forget plot] coordinates {(2007.5,0) (2007.5,6.55)};
\addplot[vsolid, forget plot] coordinates {(2010.42,0) (2010.42,6.7)};
\node[font=\fontsize{12.5}{14}\selectfont, text=black!85] at (rel axis cs:0.03,0.935) {(c)};
\end{axis}

% ---------------- (d) ----------------
\begin{axis}[panel, at={(0pt,-450pt)}, anchor=north west, height=107pt,
  ymax=45.3, ytick={0,10,20,30,40}, minor y tick num=1,
  ylabel={LLCH \%\\{}[-55\,$^\circ$;+55\,$^\circ$]},
  legend style={at={(0.742,0.949)}, anchor=north west}]
\threelegend
\addplot[cblue, ser, forget plot] coordinates {
(1996.50,1.5) (1996.62,3) (1996.74,6.5) (1996.83,4) (1996.95,9) (1996.99,1) (1997.09,1) (1997.21,1) (1997.33,2.5)
(1997.39,1) (1997.47,2.5) (1997.56,1.5) (1997.80,1.5) (1997.92,1) (1998.10,1) (1998.21,12) (1998.33,11) (1998.40,0)
(1998.80,0) (1998.85,22) (1998.90,0) (1998.98,0) (1999.04,8) (1999.10,9.5) (1999.16,6) (1999.28,12) (1999.40,14)
(1999.51,12) (1999.63,4) (1999.75,6) (1999.87,9) (1999.99,8) (2000.11,7) (2000.22,10.5) (2000.34,5) (2000.46,10)
(2000.58,9) (2000.66,20.5) (2000.76,18) (2000.87,7) (2000.97,14) (2001.05,6) (2001.17,5) (2001.29,4) (2001.41,2.5)
(2001.52,0.5) (2001.64,5) (2001.76,15) (2001.85,18) (2001.94,12) (2002.03,40.5) (2002.11,8) (2002.17,1) (2002.29,8)
(2002.41,15) (2002.53,12) (2002.62,18.5) (2002.71,10) (2002.82,15) (2002.91,2) (2003.02,6) (2003.12,14) (2003.24,13)
(2003.36,9) (2003.50,8) (2003.62,21.5) (2003.71,15) (2003.80,19.5) (2003.89,6) (2003.97,25.5) (2004.07,18) (2004.18,12)
(2004.30,5) (2004.42,3) (2004.54,4) (2004.66,9) (2004.77,13.5) (2004.89,10) (2005.01,9) (2005.13,7.5) (2005.25,5)
(2005.37,13.5) (2005.48,12) (2005.60,6) (2005.66,10) (2005.72,7.5) (2005.90,17) (2006.02,5) (2006.14,1) (2006.32,0.5)
(2006.44,1) (2006.56,5.5) (2006.68,6) (2006.80,5.5) (2006.92,6.5) (2007.04,9) (2007.13,5) (2007.25,4.5) (2007.34,0.5)
(2007.52,0) (2007.70,3) (2007.76,1) (2007.88,0.3) (2008.30,0.5) (2008.60,0.3) (2009.00,0.2) (2009.50,0.4) (2010.00,0.3)
(2010.15,0.3) (2010.27,13.5) (2010.35,0.5) (2010.57,20.5) (2010.69,10) (2010.81,5) (2010.93,1) (2011.05,5) (2011.17,10)
(2011.29,7) (2011.41,14.2) (2011.53,14.5) (2011.62,6) (2011.77,4) (2011.89,1) (2012.01,13) (2012.07,21) (2012.15,13)
(2012.25,15) (2012.33,6) (2012.43,4) (2012.61,1) (2012.73,4) (2012.88,14.5) (2012.97,9) (2013.05,10) (2013.15,6)
(2013.26,7) (2013.38,3) (2013.50,2) (2013.62,1) (2013.74,0.5) (2013.98,2) (2014.08,19.5) (2014.16,8) (2014.28,2)
(2014.40,3) (2014.50,11) (2014.58,8) (2014.68,16) (2014.80,13) (2014.92,10) (2015.04,6) (2015.12,3) (2015.24,23)
(2015.36,8) (2015.48,4) (2015.60,15.5) (2015.72,7) (2015.84,13) (2015.92,20) (2016.02,12) (2016.14,13) (2016.26,10)
(2016.38,14) (2016.47,10) (2016.53,22) (2016.62,5) (2016.68,0.5) (2016.80,8) (2016.88,10) (2016.98,4) (2017.04,8)
(2017.07,7)};
\addplot[cgreen, ser, forget plot] coordinates {
(1996.50,0.5) (1996.74,1) (1996.97,0.5) (1997.21,0.5) (1997.45,0.8) (1997.68,0.5) (1997.92,0.8) (1998.15,0.5) (1998.30,3)
(1998.37,4) (1998.41,0) (1998.80,0) (1998.85,4) (1998.90,0) (1998.98,2) (1999.12,20) (1999.22,3) (1999.34,6) (1999.46,10)
(1999.55,5) (1999.67,2) (1999.81,7.5) (1999.93,4) (2000.05,3) (2000.16,1.5) (2000.34,2) (2000.52,2.5) (2000.70,2.5)
(2000.87,2.5) (2001.05,2) (2001.23,2.5) (2001.41,2) (2001.58,2.5) (2001.76,2) (2001.94,2.5) (2002.03,1) (2002.17,0.5)
(2002.35,3) (2002.53,5) (2002.74,7) (2002.88,3) (2003.06,2.5) (2003.24,6) (2003.36,7) (2003.54,7.5) (2003.71,9)
(2003.80,3) (2003.92,3) (2004.04,4) (2004.18,3) (2004.30,7.5) (2004.42,2) (2004.54,2) (2004.71,3) (2004.95,5)
(2005.13,6) (2005.31,5) (2005.46,7) (2005.60,4) (2005.72,2) (2005.90,3) (2006.08,0.5) (2006.44,0.5) (2006.68,2.5)
(2006.92,3.5) (2007.04,4.5) (2007.16,2) (2007.34,1) (2007.52,0.3) (2007.70,0.5) (2007.88,0.3) (2008.29,1.5)
(2008.38,0.4) (2008.47,1.5) (2008.65,0.5) (2008.77,1.3) (2009.01,0.3) (2009.25,1.2) (2009.43,0.3) (2009.61,1)
(2009.85,0.5) (2010.03,0.3) (2010.27,1) (2010.45,4) (2010.63,2) (2010.87,9) (2010.95,6) (2011.03,21) (2011.11,8)
(2011.23,5) (2011.41,3) (2011.59,2) (2011.83,3) (2012.01,5) (2012.13,4) (2012.31,2) (2012.55,1) (2012.91,1)
(2013.15,0.5) (2013.38,1) (2013.62,0.5) (2013.86,1) (2014.10,3) (2014.34,1) (2014.58,2.5) (2014.82,4.5) (2014.94,6)
(2015.06,5) (2015.18,4) (2015.30,2) (2015.48,1) (2015.66,2.5) (2015.84,3.5) (2015.96,2) (2016.14,5) (2016.32,8)
(2016.44,7) (2016.56,10) (2016.64,0.5) (2016.80,2) (2016.92,5) (2017.04,5)};
\addplot[cred, ser, forget plot] coordinates {
(1996.50,0) (1996.74,0.5) (1996.97,0.5) (1997.45,0.2) (1997.80,0.3) (1998.27,3) (1998.37,4) (1998.41,0) (1998.98,0)
(1999.10,3) (1999.28,4) (1999.40,17) (1999.46,20.5) (1999.55,10) (1999.63,5) (1999.75,15) (1999.81,9) (1999.93,6)
(2000.05,5) (2000.16,2) (2000.28,0.5) (2000.40,0.5) (2000.52,1) (2000.70,1) (2000.87,2) (2001.05,2.5) (2001.23,4)
(2001.41,2.5) (2001.58,3) (2001.70,5) (2001.84,13) (2001.94,5) (2002.03,21) (2002.11,3) (2002.20,0.5) (2002.32,9.5)
(2002.41,2) (2002.53,3) (2002.71,4) (2002.88,1) (2003.00,6) (2003.09,16) (2003.18,23.5) (2003.26,12) (2003.36,10)
(2003.47,7) (2003.59,8) (2003.71,13) (2003.80,10) (2003.89,6) (2003.97,4) (2004.07,3) (2004.18,1.5) (2004.30,0.5)
(2004.42,0.3) (2004.54,1) (2004.66,1.5) (2004.83,2) (2004.95,1) (2005.07,2.5) (2005.19,3) (2005.31,1) (2005.42,6)
(2005.54,8) (2005.62,4) (2005.72,1.5) (2005.90,3) (2006.08,0.5) (2006.44,0.3) (2006.68,1) (2006.92,1.5) (2007.04,2.5)
(2007.16,1.5) (2007.34,0.5) (2007.52,0.2) (2007.76,0.8) (2007.94,0.1) (2008.29,1) (2008.41,0.1) (2008.77,0.8)
(2008.89,0.1) (2009.67,0.8) (2009.79,0.1) (2010.27,0.3) (2010.51,1.5) (2010.75,1) (2010.95,4) (2011.05,1) (2011.23,0.5)
(2011.71,0.5) (2012.19,0.3) (2012.67,0.3) (2012.85,7) (2012.97,2) (2013.15,5) (2013.26,15) (2013.35,21) (2013.44,6)
(2013.56,2) (2013.74,1) (2013.98,2) (2014.10,10.5) (2014.22,7) (2014.34,1) (2014.58,0.3) (2014.82,0.2) (2015.06,3)
(2015.18,9) (2015.24,10.5) (2015.34,5) (2015.48,1) (2015.66,0.5) (2015.90,2) (2016.08,4) (2016.20,6) (2016.38,5)
(2016.50,3) (2016.62,0.5) (2016.74,0.2) (2017.07,0)};
\addplot[mean, forget plot] coordinates {
(1996.50,1) (1996.62,1.5) (1996.74,2) (1996.85,1.5) (1996.97,1.5) (1997.09,1) (1997.21,0.5) (1997.45,0.8) (1997.68,0.5)
(1997.92,0.3) (1998.10,0.5) (1998.27,3) (1998.37,4) (1998.41,0) (1998.80,0) (1998.85,3) (1998.90,0) (1998.98,1)
(1999.10,6) (1999.22,5) (1999.34,3) (1999.46,12.5) (1999.53,12) (1999.60,2) (1999.69,6) (1999.79,7) (1999.87,3)
(1999.95,5) (2000.05,3.5) (2000.16,1) (2000.28,2) (2000.38,1) (2000.46,2.5) (2000.58,2) (2000.70,2.5) (2000.81,2)
(2000.93,2.5) (2001.05,1) (2001.17,2) (2001.29,3) (2001.41,2) (2001.52,2.5) (2001.64,3) (2001.76,5) (2001.84,11)
(2001.91,8) (2002.03,19) (2002.11,3) (2002.20,1.5) (2002.32,4) (2002.41,2.5) (2002.53,3) (2002.65,3.5) (2002.74,7)
(2002.82,4) (2002.94,5) (2003.02,1) (2003.12,4) (2003.24,7) (2003.36,7.5) (2003.47,7) (2003.59,7.5) (2003.69,9)
(2003.77,10) (2003.85,7) (2003.97,6) (2004.04,8) (2004.12,5) (2004.24,3) (2004.36,1) (2004.48,1) (2004.60,2) (2004.71,3)
(2004.83,4) (2004.95,5) (2005.07,5.5) (2005.19,6) (2005.31,3) (2005.42,7.5) (2005.54,8) (2005.62,4) (2005.72,2.5)
(2005.90,3.5) (2006.02,1) (2006.20,0.3) (2006.44,0.3) (2006.56,1.5) (2006.74,2) (2006.92,2.5) (2007.04,3.5) (2007.16,2)
(2007.34,1) (2007.52,0.3) (2007.70,1.3) (2007.82,0.2) (2008.29,1) (2008.41,0.2) (2008.50,1) (2008.59,0.2) (2008.77,1)
(2008.89,0.2) (2009.19,1) (2009.31,0.2) (2009.67,1) (2009.79,0.2) (2010.03,0.5) (2010.27,0.5) (2010.51,2) (2010.63,1.5)
(2010.87,2) (2010.99,1) (2011.23,2) (2011.47,2.5) (2011.71,1.5) (2011.95,3) (2012.07,2.5) (2012.25,2) (2012.43,1.5)
(2012.67,1) (2012.91,1) (2013.15,0.5) (2013.35,4) (2013.44,2) (2013.62,1) (2013.86,0.5) (2014.08,5) (2014.22,1.5)
(2014.46,1) (2014.70,1) (2014.94,1.5) (2015.12,3) (2015.22,6) (2015.36,1.5) (2015.54,0.5) (2015.78,1) (2016.02,2.5)
(2016.20,4.5) (2016.32,3.5) (2016.44,3) (2016.53,4) (2016.64,0.3) (2016.86,3.5) (2016.98,2) (2017.07,1)};
\addplot[vdash, forget plot] coordinates {(2007.5,0) (2007.5,41)};
\addplot[vsolid, forget plot] coordinates {(2010.42,0) (2010.42,41)};
\node[font=\fontsize{12.5}{14}\selectfont, text=black!85] at (rel axis cs:0.03,0.916) {(d)};
\end{axis}

% ---------------- (e) ----------------
\begin{axis}[panel, at={(0pt,-599pt)}, anchor=north west, height=107pt,
  ymax=7.0, ytick={0,2,4,6}, minor y tick num=3,
  ylabel={PCH-S \%\\{}[-55\,$^\circ$;-90\,$^\circ$]},
  xlabel={Time},
  legend style={at={(0.745,0.939)}, anchor=north west}]
\threelegend
\addplot[cblue, ser, forget plot] coordinates {
(1996.50,4) (1996.59,1.5) (1996.68,0.8) (1996.76,1.5) (1996.85,0.5) (1996.95,1) (1997.03,0.7) (1997.11,3) (1997.21,5.2)
(1997.33,4.5) (1997.42,5.5) (1997.50,5.3) (1997.59,3) (1997.68,2.5) (1997.80,1) (1997.92,0.3) (1998.04,2) (1998.13,3)
(1998.25,3.3) (1998.33,2) (1998.41,0) (1998.80,0) (1998.85,2.9) (1998.90,0) (1999.00,0) (1999.10,1.8) (1999.22,1.5)
(1999.31,1.5) (1999.40,0.5) (1999.48,2.2) (1999.55,0.5) (1999.63,0.2) (1999.75,1) (1999.87,0.8) (1999.99,0.6)
(2000.07,0.3) (2000.16,1) (2000.26,1.5) (2000.34,0.3) (2000.46,0.3) (2000.58,0) (2000.87,0.2) (2000.99,0.3) (2001.11,0.1)
(2001.23,0.3) (2001.35,0.2) (2001.46,0.4) (2001.58,0.1) (2001.70,1.5) (2001.82,1.9) (2001.91,2.1) (2002.03,2.5)
(2002.11,0.2) (2002.23,0) (2002.41,0.2) (2002.65,0.1) (2002.88,0.3) (2003.00,1) (2003.12,1) (2003.24,1) (2003.36,0.8)
(2003.47,0.5) (2003.59,0.6) (2003.71,0.2) (2003.83,0) (2003.95,0.5) (2004.04,3) (2004.12,1.5) (2004.21,1.8) (2004.30,1.6)
(2004.40,0.3) (2004.48,0.1) (2004.60,0) (2004.71,0.2) (2004.83,0.6) (2004.95,0.8) (2005.07,1.5) (2005.19,3.8)
(2005.27,2.5) (2005.39,2) (2005.48,1.2) (2005.60,0.6) (2005.72,0.3) (2005.86,1.2) (2005.98,3.4) (2006.06,3.6)
(2006.26,2.5) (2006.38,1.5) (2006.50,0.3) (2006.62,0.2) (2006.74,0.1) (2006.86,0.5) (2006.92,0.6) (2007.06,3) (2007.16,2.5)
(2007.28,2.9) (2007.42,0.1) (2007.52,0) (2008.18,0) (2008.26,4.1) (2008.38,1) (2008.50,1.7) (2008.59,0.3) (2008.77,0.2)
(2008.95,0) (2009.05,2.5) (2009.13,0.3) (2009.25,4.2) (2009.34,4) (2009.43,1.3) (2009.55,0.2) (2009.79,0.2) (2010.01,2)
(2010.09,0) (2010.17,3.2) (2010.27,5) (2010.34,3.5) (2010.41,0.2) (2010.51,0.8) (2010.63,0.2) (2010.75,0.2) (2010.87,0.8)
(2010.99,0.2) (2011.11,1) (2011.23,2.6) (2011.35,2) (2011.47,1) (2011.59,0.2) (2011.71,0.2) (2011.83,0.8) (2011.95,1)
(2012.07,0.5) (2012.19,0.8) (2012.31,1.2) (2012.43,0.2) (2012.61,0) (2012.79,0.2) (2012.91,1.1) (2013.00,0.2)
(2013.15,0.9) (2013.24,0.2) (2013.38,0) (2014.94,0.1) (2015.12,0.8) (2015.18,1.2) (2015.30,1.2) (2015.42,0.8) (2015.60,0.2)
(2015.78,0) (2015.96,0.8) (2016.04,1.2) (2016.16,0.6) (2016.28,0.3) (2016.38,0.8) (2016.47,0.5) (2016.56,1.6) (2016.64,0)
(2016.80,0.3) (2016.92,1.3) (2017.00,3.2) (2017.07,1.5)};
\addplot[cgreen, ser, forget plot] coordinates {
(1996.50,1.5) (1996.62,1) (1996.68,0.4) (1996.76,1.2) (1996.85,0.6) (1996.95,1) (1997.03,1) (1997.11,3.5) (1997.21,4.5)
(1997.33,4.8) (1997.40,5) (1997.50,4) (1997.59,3.8) (1997.68,2) (1997.74,1.3) (1997.80,1.3) (1997.89,1) (1997.98,1.5)
(1998.10,2.7) (1998.21,3) (1998.30,3) (1998.37,3.5) (1998.45,1.8) (1998.51,2.5) (1998.56,0) (1998.80,0) (1998.85,1.5)
(1998.90,0) (1999.00,0) (1999.10,3.7) (1999.19,3) (1999.28,1.5) (1999.36,0.8) (1999.46,4.5) (1999.53,1) (1999.63,0.3)
(1999.75,0.8) (1999.87,0.3) (1999.99,0.6) (2000.11,0.5) (2000.22,0.2) (2000.40,0.2) (2000.76,0) (2000.99,0.1)
(2001.11,0.3) (2001.23,0.8) (2001.32,0.6) (2001.46,0.2) (2001.58,0.5) (2001.70,0.2) (2001.82,0.3) (2001.94,1.5)
(2002.03,3.5) (2002.11,0.2) (2002.23,0.2) (2002.35,0.6) (2002.47,0.1) (2002.65,0.2) (2002.88,0.2) (2003.00,1.8)
(2003.09,1.4) (2003.21,1.6) (2003.36,1.8) (2003.47,1.4) (2003.59,1) (2003.71,0.2) (2003.83,0.6) (2003.95,1.3)
(2004.04,2.3) (2004.12,1.5) (2004.21,2.4) (2004.30,0.5) (2004.42,0.3) (2004.54,0.2) (2004.66,0.5) (2004.77,0.8)
(2004.89,0.6) (2005.01,1.5) (2005.13,3.2) (2005.23,2) (2005.34,2) (2005.46,1) (2005.58,0.6) (2005.72,0.4) (2005.84,1.5)
(2005.96,3.3) (2006.06,3.5) (2006.26,2.8) (2006.38,1.3) (2006.50,0.3) (2006.74,0.2) (2006.92,0.5) (2007.06,1.3)
(2007.18,0.8) (2007.28,1.5) (2007.42,0.1) (2007.64,0) (2008.18,0) (2008.26,3.8) (2008.38,1.5) (2008.50,0.3) (2008.62,0.5)
(2008.83,0.2) (2009.01,0.2) (2009.07,2.5) (2009.16,4.8) (2009.25,4.3) (2009.34,4) (2009.43,1) (2009.55,0.5) (2009.79,0.5)
(2010.01,1.3) (2010.09,0.3) (2010.21,2.8) (2010.33,2.6) (2010.43,0.3) (2010.51,0.5) (2010.63,0.2) (2010.75,1) (2010.87,2.5)
(2010.95,4.6) (2011.03,6.2) (2011.13,4.5) (2011.23,3.5) (2011.35,4.2) (2011.47,3.5) (2011.59,2.5) (2011.71,1.5)
(2011.83,1) (2011.95,2.6) (2012.04,2.7) (2012.13,2) (2012.25,1.2) (2012.37,0.5) (2012.49,0.2) (2012.67,0) (2014.10,0)
(2014.22,0.3) (2014.34,0.3) (2014.46,0.5) (2014.58,0.4) (2014.70,0.2) (2014.82,1.5) (2014.94,3.5) (2015.04,3.5)
(2015.12,2.3) (2015.24,2) (2015.30,2.3) (2015.40,1.5) (2015.48,0.5) (2015.60,0.2) (2015.72,0.3) (2015.84,1) (2015.96,1.5)
(2016.08,2.5) (2016.16,3.2) (2016.26,3) (2016.38,3) (2016.50,2.5) (2016.56,2.6) (2016.64,0) (2016.80,0.5) (2016.92,2.2)
(2017.00,2.8) (2017.07,1.5)};
\addplot[cred, ser, forget plot] coordinates {
(1996.50,0.3) (1996.59,1) (1996.68,0.8) (1996.76,2.6) (1996.85,0.5) (1996.95,1.5) (1997.03,1) (1997.11,3) (1997.21,5)
(1997.33,4.5) (1997.40,5.9) (1997.50,5.5) (1997.59,5.3) (1997.68,2.3) (1997.80,1.2) (1997.94,0.4) (1998.04,2) (1998.13,2.8)
(1998.23,3.9) (1998.30,3) (1998.37,3.3) (1998.45,2.5) (1998.53,3.8) (1998.58,0) (1999.00,0) (1999.10,1.2) (1999.22,1.8)
(1999.31,1.5) (1999.40,3) (1999.48,7) (1999.55,1) (1999.63,0.2) (1999.69,1.2) (1999.76,3.7) (1999.87,3.2) (1999.95,2.5)
(2000.02,2) (2000.11,2.6) (2000.16,1.5) (2000.28,0.6) (2000.38,0.4) (2000.46,0.1) (2000.64,0) (2000.99,0.1) (2001.23,0.2)
(2001.35,0.4) (2001.46,0.3) (2001.58,0.7) (2001.70,0.5) (2001.82,1.5) (2001.91,1.5) (2002.03,5.3) (2002.11,0.2)
(2002.23,0.5) (2002.35,0.3) (2002.47,0.2) (2002.59,0.6) (2002.71,0.3) (2002.82,4.2) (2002.91,1) (2003.00,1.5) (2003.09,3.2)
(2003.19,3.3) (2003.30,3.1) (2003.39,3.4) (2003.47,2.5) (2003.57,2) (2003.66,2.1) (2003.77,1.8) (2003.89,1.5) (2003.97,3)
(2004.07,2.5) (2004.14,2) (2004.21,2.2) (2004.30,1.7) (2004.40,0.3) (2004.48,0.5) (2004.60,1.2) (2004.71,1.7) (2004.83,1)
(2004.95,0.6) (2005.07,1) (2005.19,3.5) (2005.27,2) (2005.37,2.1) (2005.48,1.5) (2005.60,1.2) (2005.72,2) (2005.84,3.2)
(2005.96,4.2) (2006.08,3.7) (2006.18,3.3) (2006.26,2.2) (2006.38,2) (2006.50,1.5) (2006.62,1.2) (2006.74,0.8) (2006.80,1.6)
(2006.92,0.8) (2007.06,2.8) (2007.18,2.5) (2007.28,2.9) (2007.42,0) (2007.49,1.8) (2007.58,0.2) (2007.64,0) (2007.76,1.9)
(2007.85,1.8) (2007.94,0) (2008.12,0) (2008.26,2) (2008.33,0.3) (2008.41,1.3) (2008.53,3.1) (2008.62,1.5) (2008.71,0.5)
(2008.86,2.1) (2008.95,0) (2009.04,3.4) (2009.13,0.2) (2009.22,3.8) (2009.31,1.2) (2009.41,1.3) (2009.49,0.5) (2009.58,0.3)
(2009.67,3.4) (2009.77,2.5) (2009.85,0.5) (2009.94,2.8) (2010.01,0.5) (2010.06,0) (2010.15,2.5) (2010.25,0.5) (2010.33,2.7)
(2010.41,2.8) (2010.51,2.5) (2010.63,2) (2010.75,2.6) (2010.87,2.5) (2010.95,4.2) (2011.05,3.5) (2011.13,2) (2011.23,2.5)
(2011.35,1.5) (2011.44,1) (2011.53,0.3) (2011.65,0.3) (2011.77,2.6) (2011.85,2) (2011.95,2.2) (2012.04,1.2) (2012.13,0.5)
(2012.25,0.8) (2012.37,0.2) (2012.49,0) (2013.03,0) (2013.17,0.3) (2013.26,4) (2013.35,2.5) (2013.41,1.2) (2013.50,1.2)
(2013.62,0.2) (2013.74,0) (2013.92,0.3) (2014.08,1.5) (2014.16,1.1) (2014.25,1) (2014.34,0.8) (2014.46,0.3) (2014.58,0.1)
(2014.82,0.5) (2014.94,2.5) (2015.04,4.7) (2015.12,4) (2015.22,6.5) (2015.30,6.6) (2015.36,5.8) (2015.44,3.5) (2015.54,4.5)
(2015.64,2.5) (2015.72,0.8) (2015.84,1) (2015.96,2.5) (2016.04,4) (2016.16,4.4) (2016.26,4) (2016.38,4.5) (2016.47,3.5)
(2016.56,4.1) (2016.64,0.3) (2016.74,1.5) (2016.83,0) (2016.92,1.5) (2017.00,0.5) (2017.07,0)};
\addplot[mean, forget plot] coordinates {
(1996.50,1.6) (1996.59,1.5) (1996.68,0.6) (1996.76,1.5) (1996.83,0.5) (1996.93,1.5) (1997.03,0.7) (1997.11,3.5) (1997.21,4.8)
(1997.30,5) (1997.40,5.8) (1997.50,5) (1997.59,4.8) (1997.68,2.5) (1997.80,1.5) (1997.94,0.5) (1998.04,1.5) (1998.13,2.5)
(1998.23,3.5) (1998.30,3) (1998.37,3.4) (1998.45,2.5) (1998.51,2.8) (1998.56,0) (1998.80,0) (1998.85,1.6) (1998.90,0)
(1999.00,0) (1999.10,1.7) (1999.22,1.7) (1999.31,1.6) (1999.38,1) (1999.46,5.2) (1999.53,2.5) (1999.57,0.5) (1999.69,0.2)
(1999.81,1) (1999.87,0.5) (1999.95,0.8) (2000.02,0.3) (2000.11,0.5) (2000.16,1) (2000.26,0.2) (2000.38,0.5) (2000.46,0)
(2000.99,0.1) (2001.17,0.3) (2001.29,0.2) (2001.41,0.4) (2001.52,0.1) (2001.64,0.5) (2001.82,1.5) (2001.91,1.2)
(2002.03,3.8) (2002.11,0.2) (2002.23,0) (2002.41,0.1) (2002.65,0.2) (2002.82,0.3) (2002.94,0.8) (2003.06,1.2) (2003.18,1.5)
(2003.30,2) (2003.39,2.1) (2003.47,1.5) (2003.59,1) (2003.71,0.2) (2003.80,0.5) (2003.89,0) (2003.97,2) (2004.04,2.7)
(2004.12,1.3) (2004.21,1.8) (2004.30,1.5) (2004.40,0.5) (2004.48,0.4) (2004.60,0.3) (2004.71,0.6) (2004.83,0.4)
(2004.95,0.8) (2005.07,1.5) (2005.19,3.3) (2005.27,2.2) (2005.37,1.8) (2005.48,1.2) (2005.60,0.8) (2005.72,0.5)
(2005.84,1.5) (2005.96,3.5) (2006.06,3.8) (2006.26,3) (2006.38,2) (2006.50,0.5) (2006.62,0.4) (2006.74,0.2) (2006.86,0.5)
(2006.92,0.6) (2007.06,2.9) (2007.16,2.2) (2007.28,2.6) (2007.42,0.1) (2007.52,0) (2007.76,0.2) (2007.88,0.2) (2008.00,0)
(2008.18,0) (2008.26,4) (2008.38,2) (2008.45,1.2) (2008.53,1) (2008.62,0.3) (2008.77,0.5) (2008.86,0) (2008.95,0)
(2009.05,2.9) (2009.13,0.3) (2009.25,4.2) (2009.34,4.1) (2009.43,1.2) (2009.49,1.3) (2009.58,0.3) (2009.73,0.2)
(2009.82,0.4) (2009.91,0.2) (2010.01,2.4) (2010.09,0) (2010.21,3.1) (2010.29,2.7) (2010.39,1.2) (2010.45,0.3) (2010.51,1.3)
(2010.61,0.4) (2010.73,0.2) (2010.81,0.6) (2010.89,1.3) (2010.99,2) (2011.11,2) (2011.23,2.8) (2011.32,2.4) (2011.41,1.8)
(2011.49,1.5) (2011.59,0.3) (2011.71,0.1) (2011.83,0.8) (2011.89,0.4) (2011.95,1) (2012.01,1.2) (2012.13,0.5) (2012.25,0.8)
(2012.37,0.3) (2012.55,0) (2013.98,0) (2014.10,0.1) (2014.82,0.1) (2014.94,0.3) (2015.00,1) (2015.06,2.5) (2015.12,1.8)
(2015.24,2.8) (2015.30,1.3) (2015.40,1.2) (2015.48,0.3) (2015.54,0) (2015.66,0) (2015.78,0.3) (2015.90,1) (2016.02,2)
(2016.14,2.8) (2016.26,3) (2016.38,2.6) (2016.47,2.8) (2016.56,2.7) (2016.64,0) (2016.80,0) (2016.92,1) (2017.00,1.6)
(2017.07,0.2)};
\addplot[vdash, forget plot] coordinates {(2007.5,0) (2007.5,7)};
\addplot[vsolid, forget plot] coordinates {(2010.42,0) (2010.42,7)};
\node[font=\fontsize{12.5}{14}\selectfont, text=black!85] at (rel axis cs:0.03,0.916) {(e)};
\end{axis}
\end{tikzpicture}
\end{document}
